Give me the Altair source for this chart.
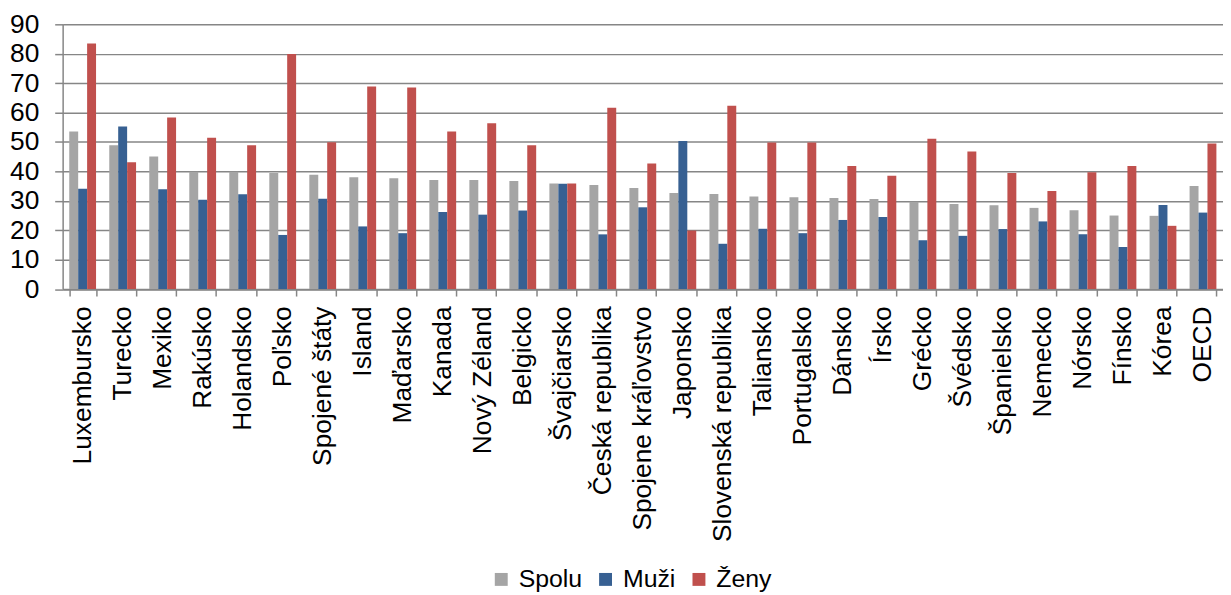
import altair as alt
import pandas as pd

countries = ["Luxembursko", "Turecko", "Mexiko", "Rakúsko", "Holandsko", "Poľsko",
             "Spojené štáty", "Island", "Maďarsko", "Kanada", "Nový Zéland", "Belgicko",
             "Švajčiarsko", "Česká republika", "Spojene kráľovstvo", "Japonsko",
             "Slovenská republika", "Taliansko", "Portugalsko", "Dánsko", "Írsko",
             "Grécko", "Švédsko", "Španielsko", "Nemecko", "Nórsko", "Fínsko", "Kórea", "OECD"]
spolu = [53.6, 48.9, 45.1, 39.9, 39.9, 39.5, 38.9, 38.0, 37.7, 37.1, 37.1, 36.7,
         35.9, 35.4, 34.4, 32.7, 32.3, 31.5, 31.2, 31.0, 30.6, 29.7, 28.9, 28.5,
         27.6, 26.8, 25.0, 24.9, 35.0]
muzi = [34.1, 55.3, 33.9, 30.4, 32.2, 18.4, 30.7, 21.3, 19.0, 26.2, 25.3, 26.7,
        35.8, 18.6, 27.8, 50.3, 15.4, 20.5, 19.0, 23.5, 24.5, 16.6, 18.1, 20.4,
        23.0, 18.6, 14.3, 28.6, 26.0]
zeny = [83.5, 43.1, 58.3, 51.4, 48.9, 79.9, 49.9, 68.9, 68.5, 53.6, 56.4, 48.9,
        35.9, 61.6, 42.7, 19.9, 62.3, 49.8, 49.8, 41.8, 38.5, 51.1, 46.8, 39.5,
        33.3, 39.7, 41.8, 21.5, 49.5]
series = ["Spolu", "Muži", "Ženy"]
colors = ["#A5A5A5", "#376092", "#C0504D"]
y_ticks = [0, 10, 20, 30, 40, 50, 60, 70, 80, 90]

rows = []
for i, c in enumerate(countries):
    for s, vals in zip(series, [spolu, muzi, zeny]):
        rows.append({"krajina": c, "skupina": s, "hodnota": vals[i]})
df = pd.DataFrame(rows)

FONT = "Liberation Sans"
GRID = "#868686"
FS = 26.5

chart = alt.Chart(df).mark_bar().encode(
    x=alt.X("krajina:N", sort=countries,
            scale=alt.Scale(paddingInner=0.33, paddingOuter=0.165),
            axis=alt.Axis(title=None, labelAngle=-90, labelAlign="right",
                          labelBaseline="middle", labelFontSize=FS, labelFont=FONT,
                          labelColor="black", labelPadding=10, tickBand="extent",
                          tickSize=7, tickColor=GRID, tickWidth=1.5,
                          domainColor=GRID, domainWidth=1.5, grid=False,
                          labelLimit=400)),
    xOffset=alt.XOffset("skupina:N", sort=series,
                        scale=alt.Scale(paddingInner=0, paddingOuter=0)),
    y=alt.Y("hodnota:Q", scale=alt.Scale(domain=[0, 90], nice=False),
            axis=alt.Axis(title=None, values=y_ticks, labelFontSize=FS, labelFont=FONT,
                          labelColor="black", labelPadding=16, tickSize=8,
                          tickColor=GRID, tickWidth=1.5, domainColor=GRID,
                          domainWidth=1.5, grid=True, gridColor=GRID, gridWidth=1.5)),
    color=alt.Color("skupina:N", sort=series,
                    scale=alt.Scale(domain=series, range=colors),
                    legend=alt.Legend(title=None, orient="none", legendX=429, legendY=546,
                                      direction="horizontal", symbolType="square",
                                      symbolSize=169, symbolStrokeWidth=0,
                                      labelFontSize=25, labelFont=FONT, labelColor="black",
                                      labelOffset=5, columnPadding=11)),
).properties(
    width=1168, height=266.5,
    padding={"left": 55, "top": 14.5, "right": 0, "bottom": 305},
    autosize=alt.AutoSizeParams(type="none"),
).configure_view(strokeWidth=0)

chart.save("out.html", embed_options={"renderer": "svg", "actions": False})
